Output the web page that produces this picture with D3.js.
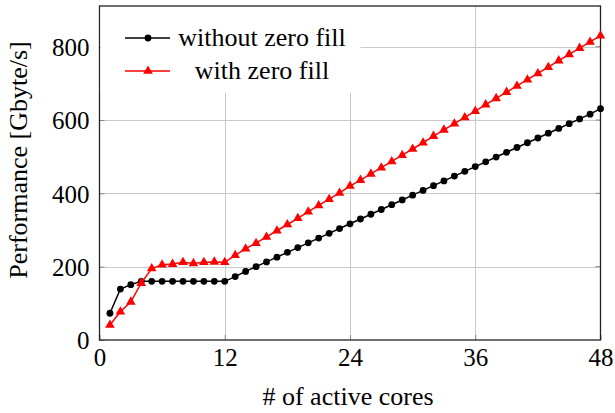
<!DOCTYPE html>
<html>
<head>
<meta charset="utf-8">
<script src="https://cdn.jsdelivr.net/npm/d3@7"></script>
</head>
<body style="margin:0;background:#fff">
<script>
// cores 1..48
let cores = d3.range(1, 49)
let withoutZeroFill = [73,139,151,160,160,160,160,160,160,160,160,160,
  173,187,200,213,226,239,252,265,278,291,304,317,
  330,343,356,369,382,395,408,421,434,447,460,473,
  486,499,512,525,538,551,564,577,590,603,616,631]
let withZeroFill = [41,77,104,155,195,205,207,212,209,212,213,212,
  231,249,264,281,298,315,332,350,367,384,401,420,
  436,453,470,487,504,521,538,556,573,590,607,624,
  642,659,676,693,710,727,744,762,779,796,813,830]
let xTicks = [0,12,24,36,48]
let yTicks = [0,200,400,600,800]
let seriesNames = ["without zero fill","with zero fill"]

function render(){
  let width = 615, height = 413,
      x0 = 99.5, x1 = 600.5, y0 = 6, y1 = 340,
      font = '"Liberation Serif"'

  let svg = d3.select("body").append("svg").attr("width",width).attr("height",height)

  let xScale = d3.scaleLinear().domain([0,48]).range([x0,x1])
  let yScale = d3.scaleLinear().domain([0,911]).range([y1,y0])

  // grid
  let grid = svg.append("g").attr("stroke","#c9c9c9").attr("stroke-width",1)
  grid.selectAll(".vx").data(xTicks.slice(1,-1)).enter().append("line")
      .attr("x1",d=>Math.round(xScale(d))+0.5).attr("x2",d=>Math.round(xScale(d))+0.5)
      .attr("y1",y0).attr("y2",y1)
  grid.selectAll(".hy").data(yTicks.slice(1)).enter().append("line")
      .attr("y1",d=>Math.round(yScale(d))+0.5).attr("y2",d=>Math.round(yScale(d))+0.5)
      .attr("x1",x0).attr("x2",x1)

  // axes with inward ticks
  let xAxis = d3.axisBottom(xScale).tickValues(xTicks).tickSizeInner(-5).tickSizeOuter(0)
  let yAxis = d3.axisLeft(yScale).tickValues(yTicks).tickSizeInner(-5).tickSizeOuter(0)

  let xGroup = svg.append("g").attr("transform",`translate(0,${y1})`).call(xAxis)
  xGroup.select(".domain").remove()
  xGroup.selectAll("line").attr("stroke","#888")
  xGroup.selectAll("text").attr("fill","#000").attr("y",7).attr("dy","0.76em")
      .style("font-family",font).attr("font-size",25)

  let yGroup = svg.append("g").attr("transform",`translate(${x0},0)`).call(yAxis)
  yGroup.select(".domain").remove()
  yGroup.selectAll("line").attr("stroke","#888")
  yGroup.selectAll("text").attr("fill","#000").attr("x",-10).attr("dy","0.35em")
      .style("font-family",font).attr("font-size",25)

  // right side ticks
  svg.append("g").selectAll("line").data(yTicks.slice(1)).enter().append("line")
      .attr("x1",x1-5).attr("x2",x1).attr("y1",d=>yScale(d)).attr("y2",d=>yScale(d)).attr("stroke","#888")

  // frame
  svg.append("rect").attr("x",x0).attr("y",y0).attr("width",x1-x0).attr("height",y1-y0)
      .attr("fill","none").attr("stroke","#222").attr("stroke-width",1.3)

  let line = d3.line().x((d,i)=>xScale(cores[i])).y(d=>yScale(d))
  let tri = d3.symbol().type(d3.symbolTriangle).size(40)

  // without zero fill
  svg.append("path").attr("d",line(withoutZeroFill)).attr("fill","none").attr("stroke","#000").attr("stroke-width",1.5)
  svg.append("g").selectAll("circle").data(withoutZeroFill).enter().append("circle")
      .attr("cx",(d,i)=>xScale(cores[i])).attr("cy",d=>yScale(d)).attr("r",3.4).attr("fill","#000")

  // with zero fill
  svg.append("path").attr("d",line(withZeroFill)).attr("fill","none").attr("stroke","#f00").attr("stroke-width",1.5)
  svg.append("g").selectAll("path").data(withZeroFill).enter().append("path")
      .attr("d",tri).attr("fill","#f00")
      .attr("transform",(d,i)=>`translate(${xScale(cores[i])},${yScale(d)})`)

  // legend
  let lg = svg.append("g")
  lg.append("rect").attr("x",x0+1).attr("y",y0+1).attr("width",260).attr("height",86).attr("fill","#fff")
  lg.append("line").attr("x1",125).attr("x2",170).attr("y1",38).attr("y2",38).attr("stroke","#000").attr("stroke-width",1.5)
  lg.append("circle").attr("cx",148).attr("cy",38).attr("r",3.4).attr("fill","#000")
  lg.append("line").attr("x1",125).attr("x2",170).attr("y1",71).attr("y2",71).attr("stroke","#f00").attr("stroke-width",1.5)
  lg.append("path").attr("d",tri).attr("fill","#f00").attr("transform","translate(148,71)")
  lg.selectAll("text").data(seriesNames).enter().append("text")
      .attr("x",262).attr("y",(d,i)=>38+i*33).attr("dy","0.32em").attr("text-anchor","middle")
      .style("font-family",font).attr("font-size",26).text(d=>d)

  // axis titles
  svg.append("text").attr("x",348).attr("y",405).attr("text-anchor","middle")
      .style("font-family",font).attr("font-size",26).text("# of active cores")
  svg.append("text").attr("transform",`translate(27,160) rotate(-90)`)
      .attr("text-anchor","middle").style("font-family",font).attr("font-size",26).text("Performance [Gbyte/s]")
}

render()
</script>
</body>
</html>
